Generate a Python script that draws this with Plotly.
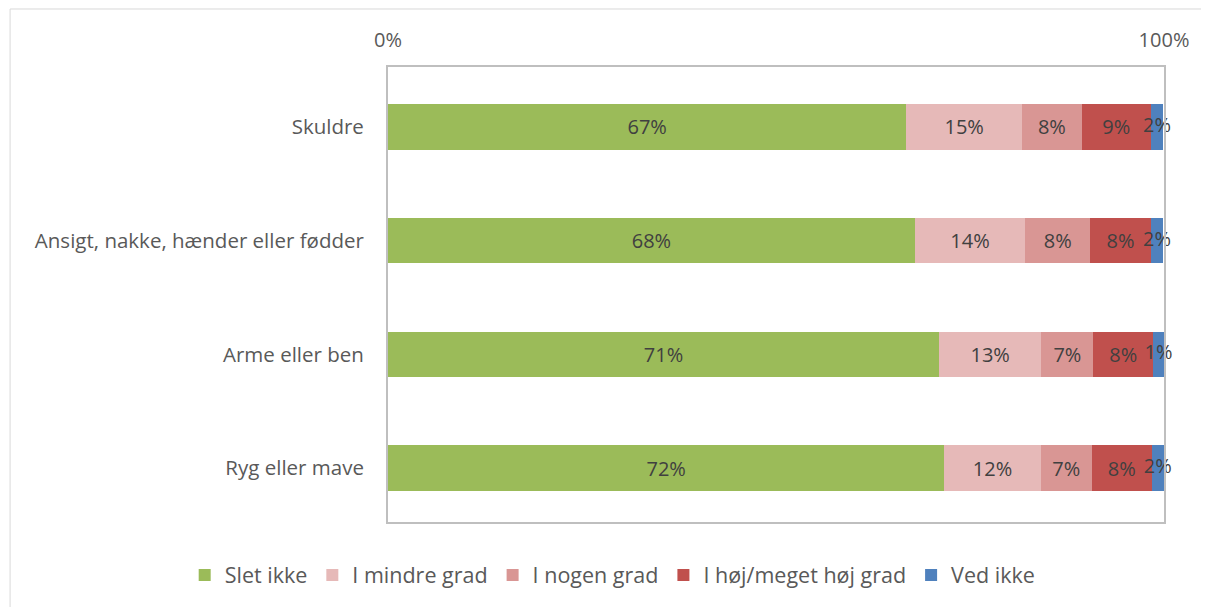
import plotly.graph_objects as go

# Categories, top to bottom as drawn
categories = ["Skuldre", "Ansigt, nakke, hænder eller fødder", "Arme eller ben", "Ryg eller mave"]

# Shares in percent
slet_ikke = [66.8, 67.9, 71.0, 71.7]
mindre_grad = [14.9, 14.2, 13.2, 12.4]
nogen_grad = [7.7, 8.4, 6.7, 6.6]
hoej_grad = [8.9, 7.8, 7.7, 7.7]
ved_ikke = [1.6, 1.6, 1.4, 1.6]

series = [
    ("Slet ikke", slet_ikke, "#9BBB59"),
    ("I mindre grad", mindre_grad, "#E6B9B8"),
    ("I nogen grad", nogen_grad, "#D99694"),
    ("I høj/meget høj grad", hoej_grad, "#C0504D"),
    ("Ved ikke", ved_ikke, "#4F81BD"),
]

tick_vals = [0, 100]
tick_text = ["0%", "100%"]

FONT = "Open Sans, sans-serif"
GREY = "#595959"
LABEL = "#404040"

fig = go.Figure()
base = [0.0] * len(categories)
for i, (name, vals, color) in enumerate(series):
    last = i == len(series) - 1
    fig.add_trace(
        go.Bar(
            name=name,
            y=categories,
            x=vals,
            orientation="h",
            marker={"color": color, "line": {"width": 0}},
            texttemplate="%{x:.0f}%",
            textposition="none" if last else "inside",
            insidetextanchor="middle",
            textangle=0,
            textfont={"color": LABEL, "size": 20, "family": FONT},
        )
    )
    if last:
        # narrow segment: label spills over the bar, so draw it as text marks
        fig.add_trace(
            go.Scatter(
                x=[b + v / 2 for b, v in zip(base, vals)],
                y=categories,
                mode="text",
                text=[f"{v:.0f}%" for v in vals],
                textposition="middle center",
                textfont={"color": LABEL, "size": 20, "family": FONT},
                showlegend=False,
                hoverinfo="skip",
                cliponaxis=False,
            )
        )
    base = [b + v for b, v in zip(base, vals)]

fig.update_layout(
    barmode="stack",
    bargap=0.6,
    width=1209,
    height=607,
    margin={"l": 380, "r": 53, "t": 59, "b": 93, "autoexpand": False},
    paper_bgcolor="white",
    plot_bgcolor="white",
    font={"family": FONT, "color": GREY, "size": 20},
    uniformtext={"minsize": 20, "mode": "show"},
    legend={
        "orientation": "h",
        "x": -0.262,
        "xanchor": "left",
        "y": -0.1165,
        "yanchor": "middle",
        "font": {"size": 21.5, "color": GREY},
        "itemsizing": "constant",
        "traceorder": "normal",
    },
    shapes=[
        {
            "type": "rect",
            "xref": "paper",
            "yref": "paper",
            "x0": -0.487,
            "x1": 1.1,
            "y0": -0.3,
            "y1": 1.1275,
            "line": {"color": "#d9d9d9", "width": 1},
            "layer": "below",
        }
    ],
)

fig.update_xaxes(
    side="top",
    range=[0, 100],
    tickvals=tick_vals,
    ticktext=tick_text,
    showgrid=False,
    zeroline=False,
    showline=True,
    mirror=True,
    linecolor="#bfbfbf",
    linewidth=2,
    ticks="",
    ticklabelstandoff=10,
    tickfont={"size": 20, "color": GREY},
    automargin=False,
    fixedrange=True,
)
fig.update_yaxes(
    range=[3.474, -0.526],
    showgrid=False,
    showline=True,
    mirror=True,
    linecolor="#bfbfbf",
    linewidth=2,
    ticks="",
    ticklabelstandoff=18,
    tickfont={"size": 20.5, "color": GREY},
    automargin=False,
    fixedrange=True,
)

fig.write_html("out.html")
